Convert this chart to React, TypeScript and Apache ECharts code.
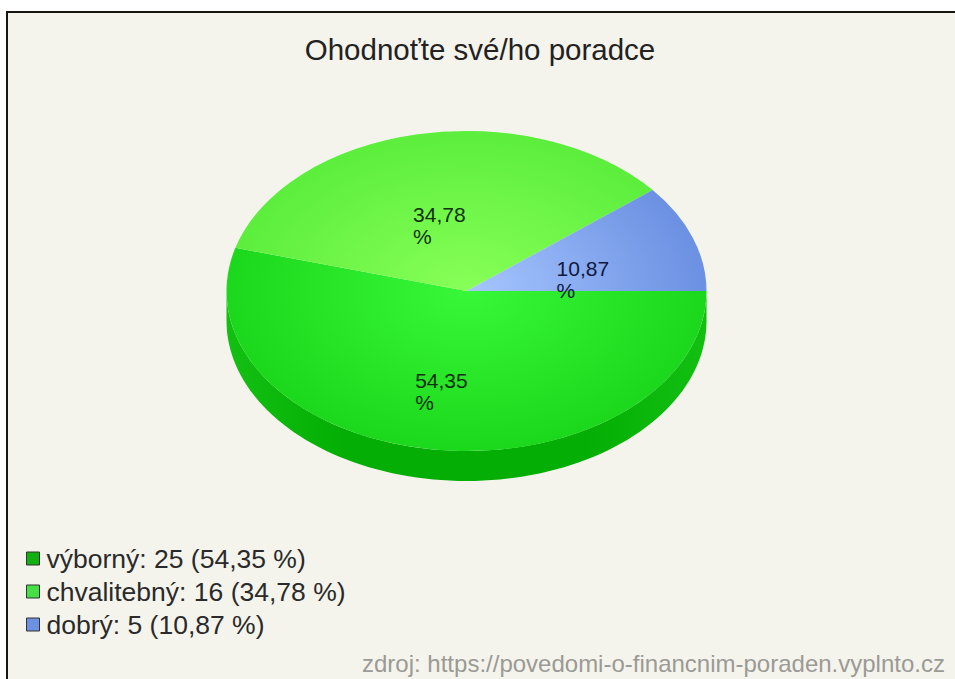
import React, { useEffect, useRef } from "react";
import * as echarts from "echarts";

// Survey answers, in drawing order (clockwise from 3 o'clock).
const answers = ["výborný", "chvalitebný", "dobrý"];
const counts = [25, 16, 5];
const titleText = "Ohodnoťte své/ho poradce";
const sourceText = "zdroj: https://povedomi-o-financnim-poraden.vyplnto.cz";

const total = counts.reduce((a, b) => a + b, 0);
const percentText = (v: number) => ((v / total) * 100).toFixed(2).replace(".", ",");

// Pie geometry: a tilted disc, flattened vertically, standing on a wall.
const CX = 466.5;
const CY = 291;
const RX = 240;
const RY = 160;
const DEPTH = 30;
const FONT = "Liberation Sans";

const slicePaint = [
  { inner: "#38F738", outer: "#1CD81C", swatch: "#0FB00F", label: "#10300f" },
  { inner: "#88FF58", outer: "#5CEE3C", swatch: "#44E044", label: "#10300f" },
  { inner: "#A6C6FF", outer: "#6C90E2", swatch: "#6C90E2", label: "#101840" },
];
// Where the first line of each percentage label starts, relative to the mid-angle anchor.
const labelShift = [
  [-35, -1],
  [-29, -9],
  [-23, -7],
];

function startAngle(index: number) {
  let sum = 0;
  for (let i = 0; i < index; i++) sum += counts[i];
  return (sum / total) * Math.PI * 2;
}

function wallPoints(a0: number, a1: number) {
  const from = Math.max(a0, 0);
  const to = Math.min(a1, Math.PI);
  if (to <= from) return null;
  const steps = 90;
  const pts: number[][] = [];
  for (let i = 0; i <= steps; i++) {
    const a = from + ((to - from) * i) / steps;
    pts.push([CX + RX * Math.cos(a), CY + RY * Math.sin(a)]);
  }
  for (let i = steps; i >= 0; i--) {
    const a = from + ((to - from) * i) / steps;
    pts.push([CX + RX * Math.cos(a), CY + DEPTH + RY * Math.sin(a)]);
  }
  return pts;
}

function sliceSeries(index: number) {
  const paint = slicePaint[index];
  const value = counts[index];
  return {
    type: "custom",
    name: `${answers[index]}: ${value} (${percentText(value)} %)`,
    coordinateSystem: "none",
    silent: true,
    itemStyle: { color: paint.swatch },
    data: [[value]],
    renderItem: (_params: unknown, api: any) => {
      const v = api.value(0) as number;
      const a0 = startAngle(index);
      const a1 = a0 + (v / total) * Math.PI * 2;
      const mid = (a0 + a1) / 2;
      const children: any[] = [];
      const wall = wallPoints(a0, a1);
      if (wall) {
        children.push({
          type: "polygon",
          z2: 1,
          shape: { points: wall },
          style: {
            fill: {
              type: "linear",
              x: CX - RX,
              y: 0,
              x2: CX + RX,
              y2: 0,
              global: true,
              colorStops: [
                { offset: 0, color: "#12C012" },
                { offset: 0.25, color: "#04AE04" },
                { offset: 0.75, color: "#04AE04" },
                { offset: 1, color: "#12C012" },
              ],
            },
          },
        });
      }
      children.push({
        type: "sector",
        z2: 2,
        x: CX,
        y: CY,
        scaleY: RY / RX,
        shape: { cx: 0, cy: 0, r0: 0, r: RX, startAngle: a0, endAngle: a1, clockwise: true },
        style: {
          fill: {
            type: "radial",
            x: 0,
            y: 0,
            r: RX,
            global: true,
            colorStops: [
              { offset: 0, color: paint.inner },
              { offset: 1, color: paint.outer },
            ],
          },
        },
      });
      children.push({
        type: "text",
        z2: 3,
        x: CX + 0.5 * RX * Math.cos(mid) + labelShift[index][0],
        y: CY + 0.5 * RY * Math.sin(mid) + labelShift[index][1],
        style: {
          text: `${percentText(v)}\n%`,
          font: `21px "${FONT}"`,
          lineHeight: 22,
          fill: paint.label,
          align: "left",
          verticalAlign: "top",
        },
      });
      return { type: "group", children };
    },
  };
}

export default function App() {
  const ref = useRef<HTMLDivElement>(null);

  useEffect(() => {
    const chart = echarts.init(ref.current!, undefined, { renderer: "svg" });
    chart.setOption({
      animation: false,
      backgroundColor: "#ffffff",
      graphic: [
        { type: "rect", z: -10, shape: { x: 6, y: 11, width: 949, height: 668 }, style: { fill: "#16160f" } },
        { type: "rect", z: -9, shape: { x: 8, y: 13, width: 947, height: 666 }, style: { fill: "#F5F4EC" } },
      ],
      title: [
        {
          text: titleText,
          left: 475,
          top: 29,
          textAlign: "center",
          textStyle: { fontFamily: FONT, fontSize: 29.5, fontWeight: "normal", color: "#222222" },
        },
        {
          text: sourceText,
          left: 357,
          top: 646,
          textStyle: { fontFamily: FONT, fontSize: 24, fontWeight: "normal", color: "#9a9a96" },
        },
      ],
      legend: {
        orient: "vertical",
        left: 21,
        top: 540,
        itemWidth: 13,
        itemHeight: 13,
        itemGap: 6,
        icon: "rect",
        selectedMode: false,
        textStyle: { fontFamily: FONT, fontSize: 26.5, color: "#2a2a2a", padding: [0, 0, 0, 2] },
        data: answers.map((a, i) => ({
          name: `${a}: ${counts[i]} (${percentText(counts[i])} %)`,
          itemStyle: { color: slicePaint[i].swatch, borderColor: "#333333", borderWidth: 1 },
        })),
      },
      series: answers.map((_, i) => sliceSeries(i)),
    });
    return () => chart.dispose();
  }, []);

  return <div ref={ref} style={{ position: "absolute", left: 0, top: 0, width: 955, height: 679 }} />;
}
